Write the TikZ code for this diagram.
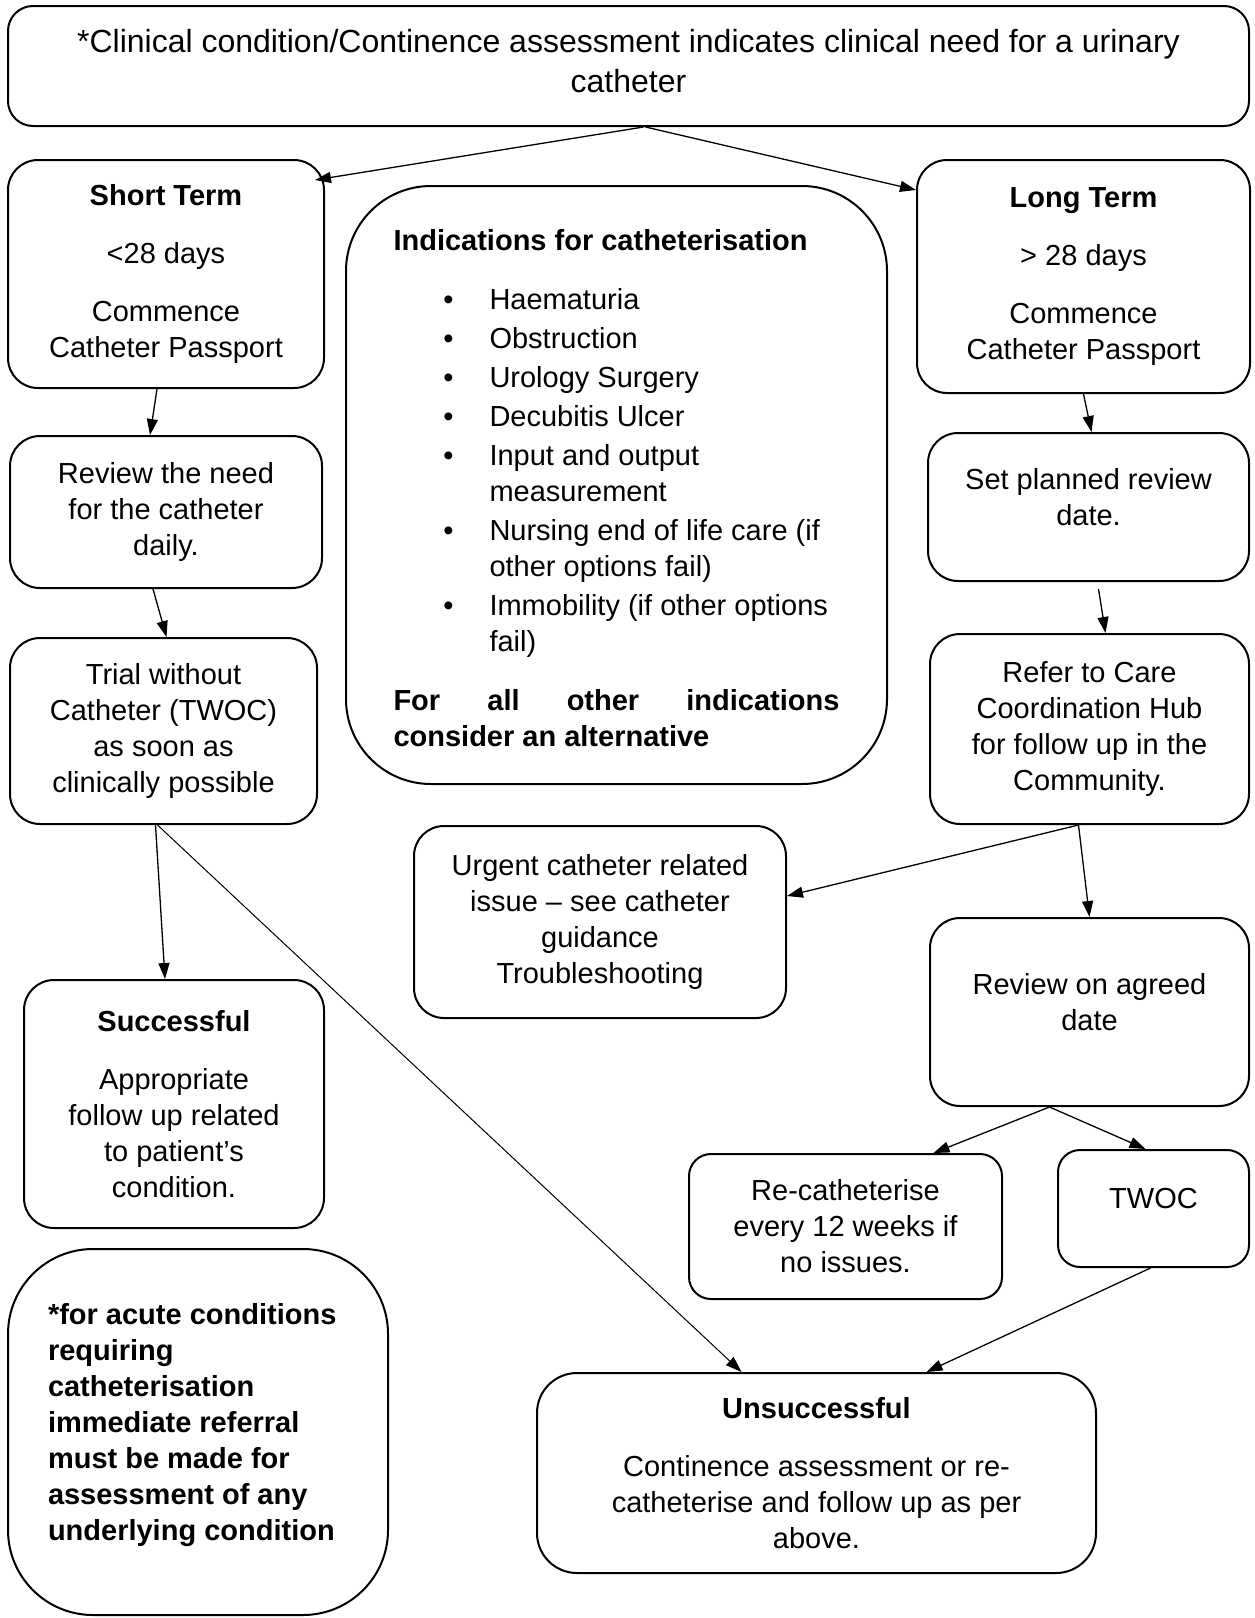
\documentclass[tikz,border=0pt]{standalone}
\usepackage{fontspec}
\setmainfont{Liberation Sans}
\usepackage{enumitem}
\usetikzlibrary{arrows.meta}

\begin{document}
\begin{tikzpicture}[
        x=1pt, y=-1pt, % coordinate come pixel, y verso il basso
        font=\fontsize{29}{36}\selectfont,
        box/.style={draw, line width=2pt, rounded corners=30pt, inner sep=0pt, align=center},
        freccia/.style={-{Triangle[length=16pt,width=11pt]}, line width=1.3pt} % frecce piene
    ]
    \useasboundingbox (0,0) rectangle (1255,1618);

    % colonna centrale e titolo
    \node[box, rounded corners=25pt, minimum width=1241pt, minimum height=120pt, font=\fontsize{32}{40}\selectfont] (need) at (628.5,66)
        {*Clinical condition/Continence assessment indicates clinical need for a urinary\\catheter\\[-30pt]~};
    \node[box, rounded corners=85pt, minimum width=541pt, minimum height=598pt] (ind) at (616.5,485) {%
        \begin{minipage}{446pt}
        \vspace{6pt}
        \textbf{Indications for catheterisation}\par
        \begin{itemize}[label=\textbullet, leftmargin=96pt, labelsep=36pt, topsep=23pt, partopsep=0pt, parsep=0pt, itemsep=3pt]
            \item Haematuria
            \item Obstruction
            \item Urology Surgery
            \item Decubitis Ulcer
            \item Input and output\newline measurement
            \item Nursing end of life care (if\newline other options fail)
            \item Immobility (if other options\newline fail)
        \end{itemize}
        \textbf{For all other indications\linebreak consider an alternative}
        \end{minipage}};

    % ramo breve termine
    \node[box, minimum width=316pt, minimum height=228pt] (short) at (166,274)
        {\textbf{Short Term}\\[22pt]<28 days\\[22pt]Commence\\Catheter Passport};
    \node[box, minimum width=312pt, minimum height=152pt] (review) at (166,512)
        {Review the need\\for the catheter\\daily.};
    \node[box, minimum width=307pt, minimum height=186pt] (trial) at (163.5,731)
        {Trial without\\Catheter (TWOC)\\as soon as\\clinically possible};
    \node[box, minimum width=300pt, minimum height=248pt] (success) at (174,1104)
        {\textbf{Successful}\\[22pt]Appropriate\\follow up related\\to patient’s\\condition.};
    \node[box, rounded corners=85pt, minimum width=380pt, minimum height=366pt] (acute) at (198,1432)
        {\begin{minipage}{300pt}\bfseries *for acute conditions\\requiring\\catheterisation\\immediate referral\\must be made for\\assessment of any\\underlying condition\par\vspace{14pt}\end{minipage}};

    % ramo lungo termine
    \node[box, minimum width=333pt, minimum height=233pt] (long) at (1083.5,276.5)
        {\textbf{Long Term}\\[22pt]> 28 days\\[22pt]Commence\\Catheter Passport};
    \node[box, minimum width=321pt, minimum height=148pt] (setrev) at (1088.5,507)
        {Set planned review\\date.\\[-16pt]~};
    \node[box, minimum width=319pt, minimum height=190pt] (refer) at (1089.5,729)
        {Refer to Care\\Coordination Hub\\for follow up in the\\Community.};
    \node[box, minimum width=372pt, minimum height=192pt] (urgent) at (600,922)
        {Urgent catheter related\\issue – see catheter\\guidance\\Troubleshooting};
    \node[box, minimum width=319pt, minimum height=188pt] (agreed) at (1089.5,1012)
        {Review on agreed\\date\\[-16pt]~};
    \node[box, rounded corners=22pt, minimum width=313pt, minimum height=145pt] (recath) at (845.5,1226.5)
        {Re-catheterise\\every 12 weeks if\\no issues.};
    \node[box, rounded corners=22pt, minimum width=191pt, minimum height=117pt] (twoc) at (1153.5,1208.5)
        {TWOC\\[-16pt]~};
    \node[box, rounded corners=40pt, minimum width=559pt, minimum height=200pt] (unsucc) at (816.5,1473)
        {\textbf{Unsuccessful}\\[22pt]Continence assessment or re-\\catheterise and follow up as per\\above.};

    % connettori
    \draw[freccia] ([xshift=15pt]need.south) -- ([xshift=-10pt,yshift=-21pt]short.north east);
    \draw[freccia] ([xshift=17pt]need.south) -- ([yshift=-31pt]long.north west);
    \draw[freccia] ([xshift=-9pt]short.south) -- ([xshift=-16pt]review.north);
    \draw[freccia] ([xshift=-13pt]review.south) -- ([xshift=3pt]trial.north);
    \draw[freccia] ([xshift=-8pt]trial.south) -- ([xshift=-9pt]success.north);
    \draw[freccia, line width=1pt] ([xshift=-6pt]trial.south) -- ([xshift=-75pt]unsucc.north);
    \draw[freccia] (long.south) -- ([xshift=3pt]setrev.north);
    \draw[freccia] ([xshift=10pt,yshift=-7pt]setrev.south) -- ([xshift=16pt]refer.north);
    \draw[freccia] ([xshift=-11pt]refer.south) -- ([yshift=26pt]urgent.east);
    \draw[freccia] ([xshift=-11pt]refer.south) -- (agreed.north);
    \draw[freccia] ([xshift=-40pt]agreed.south) -- ([xshift=88pt]recath.north);
    \draw[freccia] ([xshift=-40pt]agreed.south) -- ([xshift=-8pt]twoc.north);
    \draw[freccia] ([xshift=-3pt]twoc.south) -- ([xshift=110pt]unsucc.north);
\end{tikzpicture}
\end{document}
